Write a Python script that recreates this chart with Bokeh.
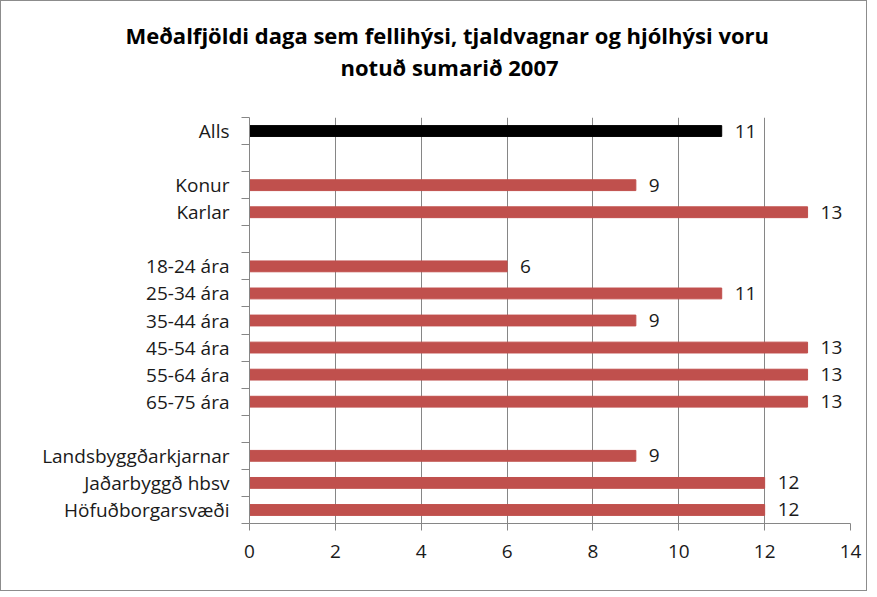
from bokeh.plotting import figure
from bokeh.models import Range1d, FixedTicker, ColumnDataSource, LabelSet, Title
from bokeh.core.properties import value
from bokeh.embed import file_html
from bokeh.resources import INLINE

categories = ["Alls", "Konur", "Karlar", "18-24 ára", "25-34 ára", "35-44 ára",
              "45-54 ára", "55-64 ára", "65-75 ára", "Landsbyggðarkjarnar",
              "Jaðarbyggð hbsv", "Höfuðborgarsvæði"]
values = [11, 9, 13, 6, 11, 9, 13, 13, 13, 9, 12, 12]
groups = [0, 1, 1, 2, 2, 2, 2, 2, 2, 3, 3, 3]
colors = ["#000000"] + ["#C0504D"] * 11
x_ticks = [0, 2, 4, 6, 8, 10, 12, 14]
title_lines = ["Meðalfjöldi daga sem  fellihýsi, tjaldvagnar og hjólhýsi voru",
               "notuð sumarið 2007"]

FONT = "Open Sans"
slots = [i + g for i, g in enumerate(groups)]
n_slots = slots[-1] + 1
centers = [s + 0.5 for s in slots]
labels_txt = [str(v) for v in values]

src = ColumnDataSource(dict(y=centers, v=values, c=colors, t=labels_txt))

p = figure(width=867, height=591, output_backend="svg", toolbar_location=None,
           x_range=Range1d(0, 14), y_range=Range1d(n_slots, 0),
           min_border_left=248, min_border_right=18, min_border_top=116,
           min_border_bottom=69)
p.styles = {"border": "1px solid #8c8c8c"}
p.outline_line_color = None
p.background_fill_color = "white"

p.hbar(y="y", right="v", left=0, height=0.4, color="c", source=src)

p.add_layout(LabelSet(x="v", y="y", text="t", source=src, x_offset=13,
                      text_baseline="middle", text_font=value(FONT),
                      text_font_size=value("19px"), text_color="#1a1a1a"))

# axes
p.xaxis.ticker = FixedTicker(ticks=x_ticks)
p.xaxis.major_tick_out = 7
p.xaxis.major_tick_in = 0
p.xaxis.minor_tick_line_color = None
p.xaxis.axis_line_color = "#868686"
p.xaxis.major_tick_line_color = "#868686"
p.xaxis.major_label_text_font = FONT
p.xaxis.major_label_text_font_size = "19px"
p.xaxis.major_label_text_color = "#1a1a1a"
p.xaxis.major_label_standoff = 14

p.yaxis.ticker = FixedTicker(ticks=centers, minor_ticks=list(range(n_slots + 1)))
p.yaxis.major_label_overrides = {c: t for c, t in zip(centers, categories)}
p.yaxis.major_tick_line_color = None
p.yaxis.major_tick_out = 0
p.yaxis.minor_tick_out = 8
p.yaxis.minor_tick_in = 0
p.yaxis.minor_tick_line_color = "#868686"
p.yaxis.axis_line_color = "#868686"
p.yaxis.major_label_text_font = FONT
p.yaxis.major_label_text_font_size = "19px"
p.yaxis.major_label_text_color = "#1a1a1a"
p.yaxis.major_label_standoff = 12

p.ygrid.grid_line_color = None
p.xgrid.ticker = FixedTicker(ticks=x_ticks[1:])
p.xgrid.grid_line_color = "#868686"

# title: spacer, then line 2, then line 1 (stacked upward from the frame)
p.title.text = ""
p.add_layout(Title(text=" ", text_font_size="2px", standoff=32), "above")
p.add_layout(Title(text=title_lines[1], align="left", offset=91, standoff=0,
                   text_font=FONT, text_font_style="bold", text_font_size="22px",
                   text_color="#000000"), "above")
p.add_layout(Title(text=title_lines[0], align="left", offset=-124, standoff=0,
                   text_font=FONT, text_font_style="bold", text_font_size="22px",
                   text_color="#000000"), "above")

open("out.html", "w").write(file_html(p, INLINE))
